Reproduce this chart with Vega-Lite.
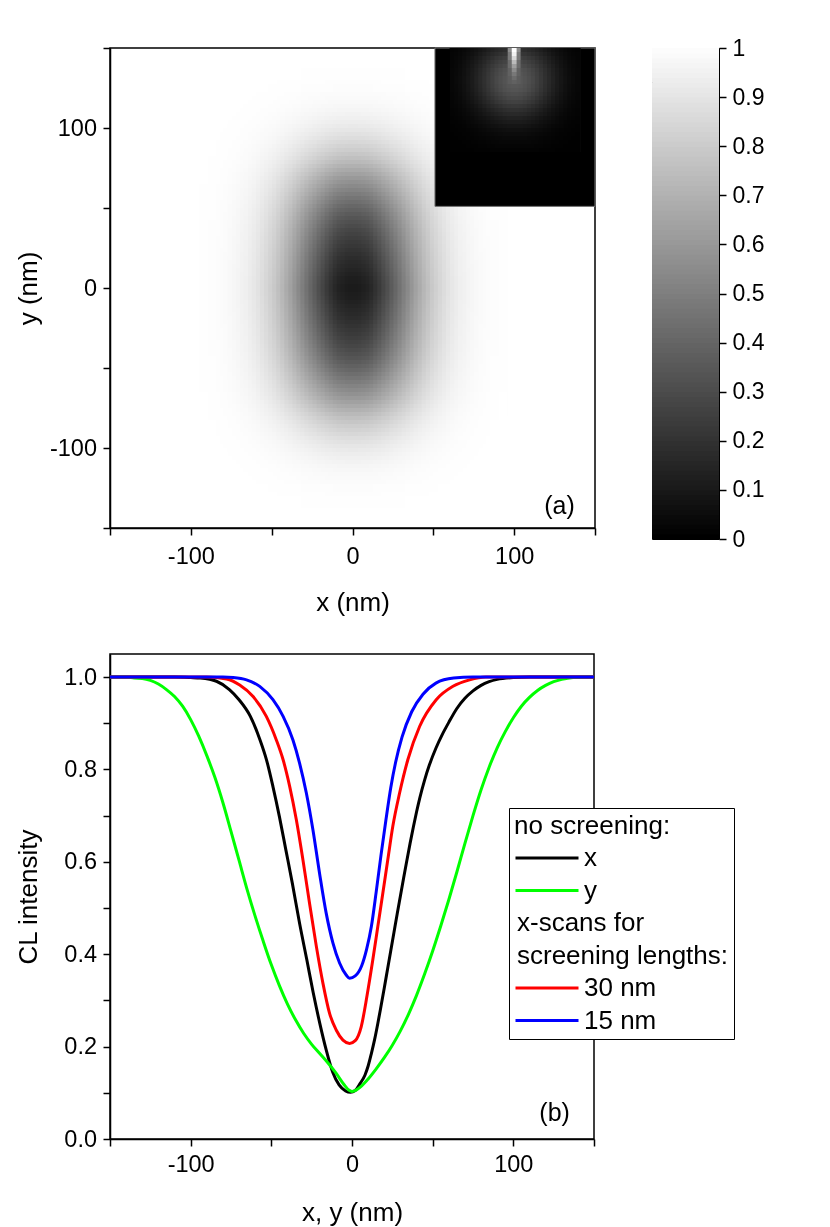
{
"$schema":"https://vega.github.io/schema/vega-lite/v6.json",
"padding":{"left":14,"top":36,"right":0,"bottom":0},
"background":"white",
"config":{"font":"Liberation Sans","view":{"stroke":"black","strokeWidth":1.5},
"axis":{"grid":false,"zindex":1,"domainColor":"black","domainWidth":1.5,"tickColor":"black","tickWidth":1.5,"tickSize":7,"labelColor":"black","labelFontSize":23.5,"titleColor":"black","titleFontSize":26,"titleFontWeight":"normal","labelPadding":6}},
"spacing":36,
"resolve":{"scale":{"x":"independent","y":"independent","color":"independent"}},
"vconcat":[
{"hconcat":[
{"width":485,"height":480,
"layer":[
{"data":{"values":[
{"x":-95,"v":0.997},{"x":-92.5,"v":0.996},{"x":-90,"v":0.994},{"x":-87.5,"v":0.991},{"x":-85,"v":0.988},{"x":-82.5,"v":0.984},{"x":-80,"v":0.979},{"x":-77.5,"v":0.974},{"x":-75,"v":0.966},{"x":-72.5,"v":0.957},{"x":-70,"v":0.947},{"x":-67.5,"v":0.936},{"x":-65,"v":0.921},{"x":-62.5,"v":0.904},{"x":-60,"v":0.885},{"x":-57.5,"v":0.864},{"x":-55,"v":0.84},{"x":-52.5,"v":0.813},{"x":-50,"v":0.783},{"x":-47.5,"v":0.75},{"x":-45,"v":0.713},{"x":-42.5,"v":0.672},{"x":-40,"v":0.63},{"x":-37.5,"v":0.585},{"x":-35,"v":0.539},{"x":-32.5,"v":0.491},{"x":-30,"v":0.445},{"x":-27.5,"v":0.398},{"x":-25,"v":0.352},{"x":-22.5,"v":0.307},{"x":-20,"v":0.265},{"x":-17.5,"v":0.225},{"x":-15,"v":0.187},{"x":-12.5,"v":0.153},{"x":-10,"v":0.131},{"x":-7.5,"v":0.117},{"x":-5,"v":0.107},{"x":-2.5,"v":0.101},
{"x":0,"v":0.101},{"x":2.5,"v":0.107},{"x":5,"v":0.117},{"x":7.5,"v":0.131},{"x":10,"v":0.153},{"x":12.5,"v":0.187},{"x":15,"v":0.225},{"x":17.5,"v":0.265},{"x":20,"v":0.307},{"x":22.5,"v":0.352},{"x":25,"v":0.398},{"x":27.5,"v":0.445},{"x":30,"v":0.491},{"x":32.5,"v":0.539},{"x":35,"v":0.585},{"x":37.5,"v":0.63},{"x":40,"v":0.672},{"x":42.5,"v":0.713},{"x":45,"v":0.75},{"x":47.5,"v":0.783},{"x":50,"v":0.813},{"x":52.5,"v":0.84},{"x":55,"v":0.864},{"x":57.5,"v":0.885},{"x":60,"v":0.904},{"x":62.5,"v":0.921},{"x":65,"v":0.936},{"x":67.5,"v":0.947},{"x":70,"v":0.957},{"x":72.5,"v":0.966},{"x":75,"v":0.974},{"x":77.5,"v":0.979},{"x":80,"v":0.984},{"x":82.5,"v":0.988},{"x":85,"v":0.991},{"x":87.5,"v":0.994},{"x":90,"v":0.996},{"x":92.5,"v":0.997}
]},
"mark":{"type":"rect"},
"encoding":{
"x":{"field":"x","type":"quantitative","bin":{"binned":true,"step":3.2},"scale":{"domain":[-150,150],"nice":false,"zero":false},"title":"x (nm)","axis":{"values":[-150,-100,-50,0,50,100,150],"labelExpr":"datum.value % 100 === 0 ? '' + datum.value : ''","labelPadding":9,"titlePadding":22,"encode":{"ticks":{"update":{"y2":{"signal":"datum.value % 100 === 0 ? 7 : 4"}}}}}},
"y":{"datum":-137.5,"type":"quantitative","scale":{"domain":[-150,150],"nice":false,"zero":false}},
"y2":{"datum":137.5},
"color":{"field":"v","type":"quantitative","scale":{"domain":[0,1],"range":["black","white"],"interpolate":"rgb"},"legend":null}
}},
{"data":{"values":[
{"y":-137.5,"y2":-135,"v":0.998},{"y":-135,"y2":-132.5,"v":0.997},{"y":-132.5,"y2":-130,"v":0.995},{"y":-130,"y2":-127.5,"v":0.993},{"y":-127.5,"y2":-125,"v":0.99},{"y":-125,"y2":-122.5,"v":0.987},{"y":-122.5,"y2":-120,"v":0.982},{"y":-120,"y2":-117.5,"v":0.977},{"y":-117.5,"y2":-115,"v":0.972},{"y":-115,"y2":-112.5,"v":0.964},{"y":-112.5,"y2":-110,"v":0.955},{"y":-110,"y2":-107.5,"v":0.946},{"y":-107.5,"y2":-105,"v":0.935},{"y":-105,"y2":-102.5,"v":0.922},{"y":-102.5,"y2":-100,"v":0.907},{"y":-100,"y2":-97.5,"v":0.889},{"y":-97.5,"y2":-95,"v":0.87},{"y":-95,"y2":-92.5,"v":0.85},{"y":-92.5,"y2":-90,"v":0.829},{"y":-90,"y2":-87.5,"v":0.805},{"y":-87.5,"y2":-85,"v":0.78},{"y":-85,"y2":-82.5,"v":0.753},{"y":-82.5,"y2":-80,"v":0.725},{"y":-80,"y2":-77.5,"v":0.693},{"y":-77.5,"y2":-75,"v":0.658},{"y":-75,"y2":-72.5,"v":0.622},{"y":-72.5,"y2":-70,"v":0.587},{"y":-70,"y2":-67.5,"v":0.553},{"y":-67.5,"y2":-65,"v":0.522},{"y":-65,"y2":-62.5,"v":0.491},{"y":-62.5,"y2":-60,"v":0.46},{"y":-60,"y2":-57.5,"v":0.429},{"y":-57.5,"y2":-55,"v":0.398},{"y":-55,"y2":-52.5,"v":0.368},{"y":-52.5,"y2":-50,"v":0.337},{"y":-50,"y2":-47.5,"v":0.309},{"y":-47.5,"y2":-45,"v":0.283},{"y":-45,"y2":-42.5,"v":0.259},{"y":-42.5,"y2":-40,"v":0.236},{"y":-40,"y2":-37.5,"v":0.214},{"y":-37.5,"y2":-35,"v":0.193},{"y":-35,"y2":-32.5,"v":0.175},{"y":-32.5,"y2":-30,"v":0.158},{"y":-30,"y2":-27.5,"v":0.142},{"y":-27.5,"y2":-25,"v":0.125},{"y":-25,"y2":-22.5,"v":0.11},{"y":-22.5,"y2":-20,"v":0.095},{"y":-20,"y2":-17.5,"v":0.08},{"y":-17.5,"y2":-15,"v":0.067},{"y":-15,"y2":-12.5,"v":0.055},{"y":-12.5,"y2":-10,"v":0.042},{"y":-10,"y2":-7.5,"v":0.03},{"y":-7.5,"y2":-5,"v":0.019},{"y":-5,"y2":-2.5,"v":0.011},{"y":-2.5,"y2":0,"v":0.004},
{"y":0,"y2":2.5,"v":0.004},{"y":2.5,"y2":5,"v":0.011},{"y":5,"y2":7.5,"v":0.019},{"y":7.5,"y2":10,"v":0.03},{"y":10,"y2":12.5,"v":0.042},{"y":12.5,"y2":15,"v":0.055},{"y":15,"y2":17.5,"v":0.067},{"y":17.5,"y2":20,"v":0.08},{"y":20,"y2":22.5,"v":0.095},{"y":22.5,"y2":25,"v":0.11},{"y":25,"y2":27.5,"v":0.125},{"y":27.5,"y2":30,"v":0.142},{"y":30,"y2":32.5,"v":0.158},{"y":32.5,"y2":35,"v":0.175},{"y":35,"y2":37.5,"v":0.193},{"y":37.5,"y2":40,"v":0.214},{"y":40,"y2":42.5,"v":0.236},{"y":42.5,"y2":45,"v":0.259},{"y":45,"y2":47.5,"v":0.283},{"y":47.5,"y2":50,"v":0.309},{"y":50,"y2":52.5,"v":0.337},{"y":52.5,"y2":55,"v":0.368},{"y":55,"y2":57.5,"v":0.398},{"y":57.5,"y2":60,"v":0.429},{"y":60,"y2":62.5,"v":0.46},{"y":62.5,"y2":65,"v":0.491},{"y":65,"y2":67.5,"v":0.522},{"y":67.5,"y2":70,"v":0.553},{"y":70,"y2":72.5,"v":0.587},{"y":72.5,"y2":75,"v":0.622},{"y":75,"y2":77.5,"v":0.658},{"y":77.5,"y2":80,"v":0.693},{"y":80,"y2":82.5,"v":0.725},{"y":82.5,"y2":85,"v":0.753},{"y":85,"y2":87.5,"v":0.78},{"y":87.5,"y2":90,"v":0.805},{"y":90,"y2":92.5,"v":0.829},{"y":92.5,"y2":95,"v":0.85},{"y":95,"y2":97.5,"v":0.87},{"y":97.5,"y2":100,"v":0.889},{"y":100,"y2":102.5,"v":0.907},{"y":102.5,"y2":105,"v":0.922},{"y":105,"y2":107.5,"v":0.935},{"y":107.5,"y2":110,"v":0.946},{"y":110,"y2":112.5,"v":0.955},{"y":112.5,"y2":115,"v":0.964},{"y":115,"y2":117.5,"v":0.972},{"y":117.5,"y2":120,"v":0.977},{"y":120,"y2":122.5,"v":0.982},{"y":122.5,"y2":125,"v":0.987},{"y":125,"y2":127.5,"v":0.99},{"y":127.5,"y2":130,"v":0.993},{"y":130,"y2":132.5,"v":0.995},{"y":132.5,"y2":135,"v":0.997},{"y":135,"y2":137.5,"v":0.998}
]},
"mark":{"type":"rect","blend":"screen"},
"encoding":{
"y":{"field":"y","type":"quantitative","title":"y (nm)","axis":{"values":[-150,-100,-50,0,50,100,150],"labelExpr":"datum.value % 100 === 0 ? '' + datum.value : ''","labelPadding":6.5,"minExtent":67,"maxExtent":67,"titlePadding":2,"encode":{"ticks":{"update":{"x2":{"signal":"datum.value % 100 === 0 ? -7 : -4"}}}}}},
"y2":{"field":"y2"},
"x":{"datum":-95,"type":"quantitative"},
"x2":{"datum":96},
"color":{"field":"v","type":"quantitative","scale":{"domain":[0,1],"range":["black","white"],"interpolate":"rgb"},"legend":null}
}},
{"data":{"values":[{"x":51,"x2":150,"y":51,"y2":150,"v":0}]},
"mark":{"type":"rect","stroke":"#777777","strokeWidth":1},
"encoding":{
"x":{"field":"x","type":"quantitative","title":"x (nm)"},"x2":{"field":"x2"},
"y":{"field":"y","type":"quantitative","title":"y (nm)"},"y2":{"field":"y2"},
"color":{"field":"v","type":"quantitative","scale":{"domain":[0,1],"range":["black","white"],"interpolate":"rgb"},"legend":null}}},
{"data":{"values":[
{"x":60,"v":0.074},{"x":62.5,"v":0.102},{"x":65,"v":0.138},{"x":67.5,"v":0.184},{"x":70,"v":0.238},{"x":72.5,"v":0.302},{"x":75,"v":0.376},{"x":77.5,"v":0.457},{"x":80,"v":0.543},{"x":82.5,"v":0.632},{"x":85,"v":0.72},{"x":87.5,"v":0.803},{"x":90,"v":0.876},{"x":92.5,"v":0.934},{"x":95,"v":0.976},{"x":97.5,"v":0.997},
{"x":100,"v":0.997},{"x":102.5,"v":0.976},{"x":105,"v":0.934},{"x":107.5,"v":0.876},{"x":110,"v":0.803},{"x":112.5,"v":0.72},{"x":115,"v":0.632},{"x":117.5,"v":0.543},{"x":120,"v":0.457},{"x":122.5,"v":0.376},{"x":125,"v":0.302},{"x":127.5,"v":0.238},{"x":130,"v":0.184},{"x":132.5,"v":0.138},{"x":135,"v":0.102},{"x":137.5,"v":0.074}
]},
"mark":{"type":"rect"},
"encoding":{
"x":{"field":"x","type":"quantitative","bin":{"binned":true,"step":3.2},"title":"x (nm)"},
"y":{"datum":85,"type":"quantitative"},
"y2":{"datum":150},
"color":{"field":"v","type":"quantitative","scale":{"domain":[0,1],"range":["black","white"],"interpolate":"rgb"},"legend":null}}},
{"data":{"values":[
{"y":85,"y2":87.5,"v":0.013},{"y":87.5,"y2":90,"v":0.019},{"y":90,"y2":92.5,"v":0.026},{"y":92.5,"y2":95,"v":0.036},{"y":95,"y2":97.5,"v":0.049},{"y":97.5,"y2":100,"v":0.064},{"y":100,"y2":102.5,"v":0.084},{"y":102.5,"y2":105,"v":0.106},{"y":105,"y2":107.5,"v":0.131},{"y":107.5,"y2":110,"v":0.16},{"y":110,"y2":112.5,"v":0.19},{"y":112.5,"y2":115,"v":0.221},{"y":115,"y2":117.5,"v":0.253},{"y":117.5,"y2":120,"v":0.281},{"y":120,"y2":122.5,"v":0.306},{"y":122.5,"y2":125,"v":0.328},{"y":125,"y2":127.5,"v":0.341},{"y":127.5,"y2":130,"v":0.349},{"y":130,"y2":132.5,"v":0.349},{"y":132.5,"y2":135,"v":0.341},{"y":135,"y2":137.5,"v":0.328},{"y":137.5,"y2":140,"v":0.306},{"y":140,"y2":142.5,"v":0.281},{"y":142.5,"y2":145,"v":0.253},{"y":145,"y2":147.5,"v":0.221},{"y":147.5,"y2":150,"v":0.19}
]},
"mark":{"type":"rect","blend":"multiply"},
"encoding":{
"y":{"field":"y","type":"quantitative","title":"y (nm)"},
"y2":{"field":"y2"},
"x":{"datum":60,"type":"quantitative"},
"x2":{"datum":141},
"color":{"field":"v","type":"quantitative","scale":{"domain":[0,1],"range":["black","white"],"interpolate":"rgb"},"legend":null}}},
{"data":{"values":[
{"x":96,"x2":104,"y":127.5,"y2":132.5,"v":0.36},{"x":96,"x2":104,"y":132.5,"y2":137.5,"v":0.38},{"x":96,"x2":104,"y":137.5,"y2":142.5,"v":0.42},{"x":96,"x2":104,"y":142.5,"y2":147.5,"v":0.48},{"x":96,"x2":104,"y":147.5,"y2":150,"v":0.55},
{"x":98.5,"x2":101.5,"y":127.5,"y2":130,"v":0.38},{"x":98.5,"x2":101.5,"y":130,"y2":132.5,"v":0.42},{"x":98.5,"x2":101.5,"y":132.5,"y2":135,"v":0.47},{"x":98.5,"x2":101.5,"y":135,"y2":137.5,"v":0.54},{"x":98.5,"x2":101.5,"y":137.5,"y2":140,"v":0.62},{"x":98.5,"x2":101.5,"y":140,"y2":142.5,"v":0.73},{"x":98.5,"x2":101.5,"y":142.5,"y2":145,"v":0.85},{"x":98.5,"x2":101.5,"y":145,"y2":147.5,"v":0.95},{"x":98.5,"x2":101.5,"y":147.5,"y2":150,"v":1}
]},
"mark":{"type":"rect","blend":"lighten"},
"encoding":{
"x":{"field":"x","type":"quantitative","title":"x (nm)"},"x2":{"field":"x2"},
"y":{"field":"y","type":"quantitative","title":"y (nm)"},"y2":{"field":"y2"},
"color":{"field":"v","type":"quantitative","scale":{"domain":[0,1],"range":["black","white"],"interpolate":"rgb"},"legend":null}}},
{"data":{"values":[{"t":"(a)","x":128,"y":-136}]},
"mark":{"type":"text","fontSize":25,"color":"black","align":"center","baseline":"middle"},
"encoding":{"x":{"field":"x","type":"quantitative","title":"x (nm)"},"y":{"field":"y","type":"quantitative","title":"y (nm)"},"text":{"field":"t"}}}
]},
{"width":67,"height":491,"view":{"stroke":"black","strokeWidth":1},
"data":{"values":[{"c":0},{"c":0.01},{"c":0.02},{"c":0.03},{"c":0.04},{"c":0.05},{"c":0.06},{"c":0.07},{"c":0.08},{"c":0.09},{"c":0.1},{"c":0.11},{"c":0.12},{"c":0.13},{"c":0.14},{"c":0.15},{"c":0.16},{"c":0.17},{"c":0.18},{"c":0.19},{"c":0.2},{"c":0.21},{"c":0.22},{"c":0.23},{"c":0.24},{"c":0.25},{"c":0.26},{"c":0.27},{"c":0.28},{"c":0.29},{"c":0.3},{"c":0.31},{"c":0.32},{"c":0.33},{"c":0.34},{"c":0.35},{"c":0.36},{"c":0.37},{"c":0.38},{"c":0.39},{"c":0.4},{"c":0.41},{"c":0.42},{"c":0.43},{"c":0.44},{"c":0.45},{"c":0.46},{"c":0.47},{"c":0.48},{"c":0.49},{"c":0.5},{"c":0.51},{"c":0.52},{"c":0.53},{"c":0.54},{"c":0.55},{"c":0.56},{"c":0.57},{"c":0.58},{"c":0.59},{"c":0.6},{"c":0.61},{"c":0.62},{"c":0.63},{"c":0.64},{"c":0.65},{"c":0.66},{"c":0.67},{"c":0.68},{"c":0.69},{"c":0.7},{"c":0.71},{"c":0.72},{"c":0.73},{"c":0.74},{"c":0.75},{"c":0.76},{"c":0.77},{"c":0.78},{"c":0.79},{"c":0.8},{"c":0.81},{"c":0.82},{"c":0.83},{"c":0.84},{"c":0.85},{"c":0.86},{"c":0.87},{"c":0.88},{"c":0.89},{"c":0.9},{"c":0.91},{"c":0.92},{"c":0.93},{"c":0.94},{"c":0.95},{"c":0.96},{"c":0.97},{"c":0.98},{"c":0.99}]},
"mark":{"type":"rect","clip":true},
"encoding":{
"y":{"field":"c","type":"quantitative","bin":{"binned":true,"step":0.0115},"scale":{"domain":[0,1],"nice":false,"zero":false},"axis":{"orient":"right","title":null,"values":[0,0.1,0.2,0.3,0.4,0.5,0.6,0.7,0.8,0.9,1],"format":"~g","labelFontSize":23,"labelPadding":6,"domain":false}},
"color":{"field":"c","type":"quantitative","scale":{"domain":[0,1],"range":["black","white"],"interpolate":"rgb"},"legend":null}}}
],
"spacing":57,"bounds":"flush",
"resolve":{"scale":{"x":"independent","y":"independent","color":"independent"}}},
{"width":484,"height":485,
"layer":[
{"data":{"values":[
{"s":"x","p":-150,"v":1},{"s":"x","p":-110,"v":1},{"s":"x","p":-100,"v":0.999},{"s":"x","p":-94,"v":0.998},{"s":"x","p":-84,"v":0.991},{"s":"x","p":-76,"v":0.973},{"s":"x","p":-70,"v":0.951},{"s":"x","p":-63,"v":0.915},{"s":"x","p":-57,"v":0.864},{"s":"x","p":-53,"v":0.821},{"s":"x","p":-49,"v":0.763},{"s":"x","p":-45,"v":0.698},{"s":"x","p":-41,"v":0.626},{"s":"x","p":-37,"v":0.554},{"s":"x","p":-32.5,"v":0.467},{"s":"x","p":-28,"v":0.388},{"s":"x","p":-24,"v":0.316},{"s":"x","p":-20,"v":0.251},{"s":"x","p":-16,"v":0.193},{"s":"x","p":-12,"v":0.145},{"s":"x","p":-8,"v":0.117},{"s":"x","p":-4,"v":0.104},{"s":"x","p":-1,"v":0.101},{"s":"x","p":2,"v":0.105},{"s":"x","p":5,"v":0.12},{"s":"x","p":8,"v":0.138},{"s":"x","p":10,"v":0.158},{"s":"x","p":12,"v":0.185},{"s":"x","p":14,"v":0.215},{"s":"x","p":16,"v":0.25},{"s":"x","p":18,"v":0.288},{"s":"x","p":20,"v":0.327},{"s":"x","p":22,"v":0.367},{"s":"x","p":24,"v":0.407},{"s":"x","p":26,"v":0.447},{"s":"x","p":28,"v":0.487},{"s":"x","p":30,"v":0.526},{"s":"x","p":32,"v":0.565},{"s":"x","p":34,"v":0.603},{"s":"x","p":36,"v":0.64},{"s":"x","p":38,"v":0.675},{"s":"x","p":40,"v":0.708},{"s":"x","p":42,"v":0.738},{"s":"x","p":45,"v":0.777},{"s":"x","p":48,"v":0.81},{"s":"x","p":52,"v":0.846},{"s":"x","p":56,"v":0.876},{"s":"x","p":60,"v":0.902},{"s":"x","p":65,"v":0.932},{"s":"x","p":70,"v":0.954},{"s":"x","p":75,"v":0.97},{"s":"x","p":80,"v":0.982},{"s":"x","p":85,"v":0.99},{"s":"x","p":90,"v":0.995},{"s":"x","p":100,"v":0.999},{"s":"x","p":110,"v":1},{"s":"x","p":150,"v":1},
{"s":"y","p":-150,"v":1},{"s":"y","p":-140,"v":1},{"s":"y","p":-135,"v":0.998},{"s":"y","p":-130,"v":0.997},{"s":"y","p":-125,"v":0.993},{"s":"y","p":-120,"v":0.985},{"s":"y","p":-115,"v":0.973},{"s":"y","p":-110,"v":0.958},{"s":"y","p":-105,"v":0.937},{"s":"y","p":-100,"v":0.908},{"s":"y","p":-95,"v":0.872},{"s":"y","p":-90,"v":0.83},{"s":"y","p":-85,"v":0.783},{"s":"y","p":-80,"v":0.728},{"s":"y","p":-75,"v":0.666},{"s":"y","p":-70,"v":0.603},{"s":"y","p":-65,"v":0.54},{"s":"y","p":-60,"v":0.482},{"s":"y","p":-55,"v":0.428},{"s":"y","p":-50,"v":0.377},{"s":"y","p":-45,"v":0.332},{"s":"y","p":-40,"v":0.292},{"s":"y","p":-35,"v":0.258},{"s":"y","p":-30,"v":0.229},{"s":"y","p":-25,"v":0.205},{"s":"y","p":-20,"v":0.185},{"s":"y","p":-15,"v":0.165},{"s":"y","p":-10,"v":0.143},{"s":"y","p":-5,"v":0.118},{"s":"y","p":-2,"v":0.106},{"s":"y","p":0,"v":0.103},{"s":"y","p":3,"v":0.107},{"s":"y","p":6,"v":0.115},{"s":"y","p":10,"v":0.13},{"s":"y","p":15,"v":0.152},{"s":"y","p":20,"v":0.176},{"s":"y","p":25,"v":0.203},{"s":"y","p":30,"v":0.234},{"s":"y","p":35,"v":0.27},{"s":"y","p":40,"v":0.311},{"s":"y","p":45,"v":0.357},{"s":"y","p":50,"v":0.407},{"s":"y","p":55,"v":0.461},{"s":"y","p":60,"v":0.518},{"s":"y","p":65,"v":0.578},{"s":"y","p":70,"v":0.64},{"s":"y","p":75,"v":0.7},{"s":"y","p":80,"v":0.756},{"s":"y","p":85,"v":0.805},{"s":"y","p":90,"v":0.847},{"s":"y","p":95,"v":0.882},{"s":"y","p":100,"v":0.912},{"s":"y","p":105,"v":0.937},{"s":"y","p":110,"v":0.956},{"s":"y","p":115,"v":0.971},{"s":"y","p":120,"v":0.982},{"s":"y","p":125,"v":0.99},{"s":"y","p":130,"v":0.995},{"s":"y","p":137,"v":0.999},{"s":"y","p":145,"v":1},{"s":"y","p":150,"v":1},
{"s":"30 nm","p":-150,"v":1},{"s":"30 nm","p":-90,"v":1},{"s":"30 nm","p":-77.8,"v":0.996},{"s":"30 nm","p":-69.6,"v":0.983},{"s":"30 nm","p":-61.3,"v":0.958},{"s":"30 nm","p":-53.1,"v":0.915},{"s":"30 nm","p":-46.9,"v":0.864},{"s":"30 nm","p":-42.7,"v":0.821},{"s":"30 nm","p":-38.6,"v":0.763},{"s":"30 nm","p":-34.5,"v":0.691},{"s":"30 nm","p":-30.4,"v":0.604},{"s":"30 nm","p":-26.3,"v":0.51},{"s":"30 nm","p":-22.1,"v":0.417},{"s":"30 nm","p":-18,"v":0.337},{"s":"30 nm","p":-13.9,"v":0.272},{"s":"30 nm","p":-9.8,"v":0.236},{"s":"30 nm","p":-5.6,"v":0.214},{"s":"30 nm","p":-1.5,"v":0.207},{"s":"30 nm","p":2,"v":0.213},{"s":"30 nm","p":5.7,"v":0.243},{"s":"30 nm","p":9.3,"v":0.31},{"s":"30 nm","p":12.9,"v":0.388},{"s":"30 nm","p":16,"v":0.46},{"s":"30 nm","p":19.1,"v":0.532},{"s":"30 nm","p":22.2,"v":0.605},{"s":"30 nm","p":25.3,"v":0.677},{"s":"30 nm","p":29.5,"v":0.749},{"s":"30 nm","p":34.6,"v":0.821},{"s":"30 nm","p":41.9,"v":0.893},{"s":"30 nm","p":52.2,"v":0.951},{"s":"30 nm","p":62.6,"v":0.98},{"s":"30 nm","p":72.9,"v":0.994},{"s":"30 nm","p":83,"v":1},{"s":"30 nm","p":150,"v":1},
{"s":"15 nm","p":-150,"v":1},{"s":"15 nm","p":-80,"v":1},{"s":"15 nm","p":-73.7,"v":0.999},{"s":"15 nm","p":-65.4,"v":0.994},{"s":"15 nm","p":-57.2,"v":0.98},{"s":"15 nm","p":-49,"v":0.951},{"s":"15 nm","p":-42.7,"v":0.915},{"s":"15 nm","p":-36.6,"v":0.864},{"s":"15 nm","p":-32.5,"v":0.814},{"s":"15 nm","p":-28.3,"v":0.749},{"s":"15 nm","p":-24.2,"v":0.669},{"s":"15 nm","p":-20.1,"v":0.575},{"s":"15 nm","p":-16,"v":0.489},{"s":"15 nm","p":-11.8,"v":0.424},{"s":"15 nm","p":-7.7,"v":0.381},{"s":"15 nm","p":-3.6,"v":0.355},{"s":"15 nm","p":-1.5,"v":0.348},{"s":"15 nm","p":2,"v":0.353},{"s":"15 nm","p":6,"v":0.375},{"s":"15 nm","p":9,"v":0.41},{"s":"15 nm","p":12,"v":0.46},{"s":"15 nm","p":15,"v":0.535},{"s":"15 nm","p":18,"v":0.615},{"s":"15 nm","p":21,"v":0.69},{"s":"15 nm","p":24,"v":0.76},{"s":"15 nm","p":27,"v":0.815},{"s":"15 nm","p":31,"v":0.87},{"s":"15 nm","p":37,"v":0.925},{"s":"15 nm","p":44,"v":0.963},{"s":"15 nm","p":52,"v":0.987},{"s":"15 nm","p":63,"v":0.998},{"s":"15 nm","p":75,"v":1},{"s":"15 nm","p":150,"v":1}
]},
"mark":{"type":"line","strokeWidth":3,"interpolate":"monotone","clip":true},
"encoding":{
"x":{"field":"p","type":"quantitative","scale":{"domain":[-150,150],"nice":false,"zero":false},"title":"x, y (nm)","axis":{"values":[-150,-100,-50,0,50,100,150],"labelExpr":"datum.value % 100 === 0 ? '' + datum.value : ''","titlePadding":24,"encode":{"ticks":{"update":{"y2":{"signal":"datum.value % 100 === 0 ? 7 : 4"}}}}}},
"y":{"field":"v","type":"quantitative","scale":{"domain":[0,1.05],"nice":false,"zero":false},"title":"CL intensity","axis":{"values":[0,0.1,0.2,0.3,0.4,0.5,0.6,0.7,0.8,0.9,1],"format":".1f","labelExpr":"abs(round(datum.value*10)) % 2 === 0 ? datum.label : ''","labelPadding":6.5,"minExtent":67,"maxExtent":67,"titlePadding":2,"encode":{"ticks":{"update":{"x2":{"signal":"abs(round(datum.value*10)) % 2 === 0 ? -7 : -4"}}}}}},
"color":{"field":"s","type":"nominal","scale":{"domain":["x","y","x-scans for","screening lengths:","30 nm","15 nm"],"range":["#000000","#00ff00","transparent","transparent","#ff0000","#0000ff"]},
"legend":{"title":"no screening:","orient":"none","legendX":399,"legendY":154,"direction":"vertical","symbolType":"stroke","symbolSize":3969,"symbolStrokeWidth":3,"clipHeight":26,"rowPadding":6.5,"labelFontSize":26,"titleFontSize":26,"titleFontWeight":"normal","titleColor":"black","labelColor":"black","titlePadding":6,"labelOffset":4,"labelLimit":400,"strokeColor":"black","fillColor":"white","padding":5,"symbolOffset":0,
"encode":{"labels":{"update":{"dx":{"signal":"datum.value === 'x-scans for' || datum.value === 'screening lengths:' ? -67 : 0"}}}}}}
}},
{"data":{"values":[{"t":"(b)","p":125.6,"v":0.056}]},
"mark":{"type":"text","fontSize":25,"color":"black","align":"center","baseline":"middle"},
"encoding":{"x":{"field":"p","type":"quantitative","title":"x, y (nm)"},"y":{"field":"v","type":"quantitative","title":"CL intensity"},"text":{"field":"t"}}}
]}
]
}
